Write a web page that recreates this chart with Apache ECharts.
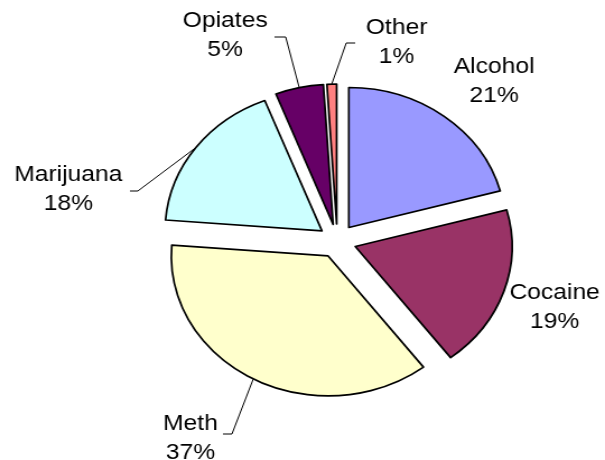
<!DOCTYPE html>
<html>
<head>
<meta charset="utf-8">
<script src="https://cdn.jsdelivr.net/npm/echarts@6/dist/echarts.min.js"></script>
<style>
  html, body { margin: 0; padding: 0; background: #ffffff; overflow: hidden; }
  /* the chart is drawn slightly narrower and widened horizontally */
  #chart { width: 540px; height: 460px; transform: scaleX(1.1204); transform-origin: 0 0; }
</style>
</head>
<body>
<div id="chart"></div>
<script>
// Drug of choice shares (percent)
const categories = ['Alcohol', 'Cocaine', 'Meth', 'Marijuana', 'Opiates', 'Other'];
const shares = [21, 19, 37, 18, 5, 1];

const sliceColors = ['#9999FF', '#993366', '#FFFFCC', '#CCFFFF', '#660066', '#FF8080'];

// pie geometry
const PIE_CENTER = [301, 241];
const PIE_RADIUS = 140;
const EXPLODE = 17;

// label anchors (chart pixel space) and optional leader-line bend/end points
const labelSpots = [
  { x: 441, y: 81 },
  { x: 495, y: 307 },
  { x: 170, y: 438, line: [[207, 434], [199, 434]] },
  { x: 61, y: 189, line: [[123, 191], [116, 191]] },
  { x: 201, y: 35, line: [[255, 37], [245, 37]] },
  { x: 354, y: 42, line: [[309, 43], [317, 43]] }
];

const FONT = 'Liberation Sans, Arial, sans-serif';

const chart = echarts.init(document.getElementById('chart'), null, { renderer: 'canvas' });

// exploded slices
const sliceData = categories.map(function (name, i) {
  return { name: name, value: shares[i], selected: true, itemStyle: { color: sliceColors[i] } };
});

// same values again, carrying only the labels
const labelData = categories.map(function (name, i) {
  return { name: name, value: shares[i], labelLine: { show: !!labelSpots[i].line } };
});

chart.setOption({
  animation: false,
  backgroundColor: '#ffffff',
  series: [{
    type: 'pie',
    center: PIE_CENTER,
    radius: [0, PIE_RADIUS],
    startAngle: 90,
    clockwise: true,
    selectedMode: 'multiple',
    selectedOffset: EXPLODE,
    itemStyle: { borderColor: '#000000', borderWidth: 1.7 },
    emphasis: { disabled: true },
    select: { itemStyle: { borderColor: '#000000', borderWidth: 1.7 } },
    label: { show: false },
    labelLine: { show: false },
    data: sliceData
  }, {
    type: 'pie',
    silent: true,
    center: PIE_CENTER,
    radius: [0, PIE_RADIUS],
    startAngle: 90,
    clockwise: true,
    avoidLabelOverlap: false,
    itemStyle: { color: 'rgba(0,0,0,0)', borderWidth: 0 },
    emphasis: { disabled: true },
    label: {
      show: true,
      position: 'outside',
      formatter: '{n|{b}}\n{p|{c}%}',
      rich: {
        n: { fontFamily: FONT, fontSize: 22, lineHeight: 29, color: '#000', align: 'center' },
        p: { fontFamily: FONT, fontSize: 22, lineHeight: 29, color: '#000', align: 'center' }
      }
    },
    labelLine: { show: true, lineStyle: { color: '#000000', width: 1 } },
    labelLayout: function (params) {
      const spot = labelSpots[params.dataIndex];
      const out = { x: spot.x, y: spot.y, align: 'center', verticalAlign: 'middle' };
      if (spot.line && params.labelLinePoints) {
        // start the leader on the rim of the exploded slice
        const p0 = params.labelLinePoints[0];
        const dx = p0[0] - PIE_CENTER[0], dy = p0[1] - PIE_CENTER[1];
        const len = Math.sqrt(dx * dx + dy * dy) || 1;
        const r = PIE_RADIUS + EXPLODE;
        const start = [PIE_CENTER[0] + dx / len * r, PIE_CENTER[1] + dy / len * r];
        out.labelLinePoints = [start, spot.line[0], spot.line[1]];
      }
      return out;
    },
    data: labelData
  }]
});
</script>
</body>
</html>
